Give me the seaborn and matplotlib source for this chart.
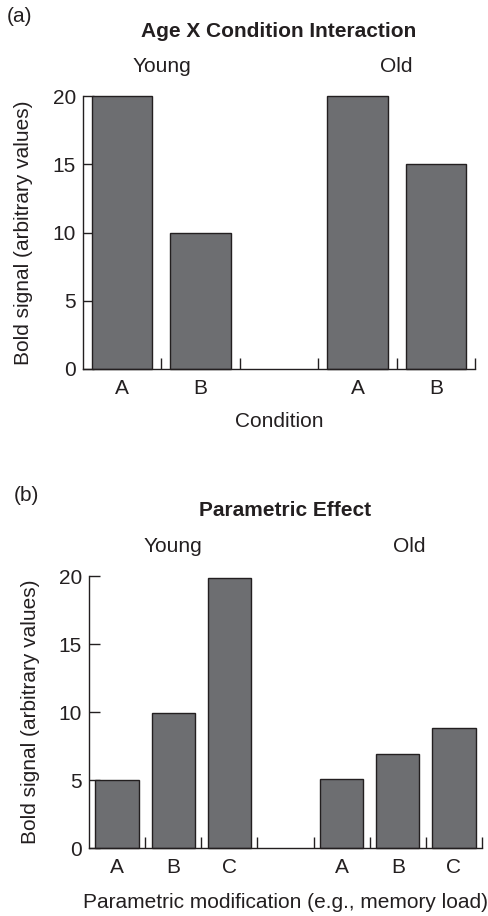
import matplotlib
matplotlib.use('Agg')
import matplotlib.pyplot as plt
import matplotlib.transforms as mtransforms
import seaborn as sns
import pandas as pd
import numpy as np

sns.set_style('ticks')
plt.rcParams['font.family'] = ['Liberation Sans', 'DejaVu Sans']

# panel (a): Age x Condition
a_groups = ['Young', 'Young', 'Old', 'Old']
a_conditions = ['A', 'B', 'A', 'B']
a_values = [20, 10, 20, 15]

# panel (b): parametric effect
b_groups = ['Young', 'Young', 'Young', 'Old', 'Old', 'Old']
b_levels = ['A', 'B', 'C', 'A', 'B', 'C']
b_values = [5.0, 9.9, 19.85, 5.05, 6.9, 8.8]

y_ticks = [0, 5, 10, 15, 20]
ink = '#231f20'
bar_grey = '#6d6e71'
fs = 15


def make_panel(fig, rect, groups, conds, values, group_order, title, xlabel, tag, tag_xy,
               title_y, group_y, xlab_y, ylab_x, old_shift=0.0):
    ax = fig.add_axes(rect)
    slots = []
    for g in group_order:
        for c in sorted(set(cd for gg, cd in zip(groups, conds) if gg == g)):
            slots.append(f'{g} {c}')
        slots.append(f'gap {g}')
    slots = slots[:-1]  # no gap after last group
    df = pd.DataFrame({'slot': [f'{g} {c}' for g, c in zip(groups, conds)],
                       'value': values})
    sns.barplot(data=df, x='slot', y='value', order=slots, color=bar_grey,
                saturation=1, width=0.77, edgecolor=ink, linewidth=1.0, ax=ax)
    for p in ax.patches:
        p.set_clip_on(False)
    n = len(slots)
    ax.set_xlim(-0.5, n - 0.5)
    ax.set_ylim(0, 20)
    ax.set_yticks(y_ticks)
    ax.set_xticks(range(n))
    ax.set_xticklabels(['' if s.startswith('gap') else s.split()[1] for s in slots])
    ax.set_xticks(np.arange(0.5, n, 1.0), minor=True)
    ax.tick_params(axis='x', which='major', length=0, pad=7, labelsize=fs, colors=ink)
    ax.tick_params(axis='x', which='minor', direction='in', length=8, width=1, color=ink)
    ax.tick_params(axis='y', direction='in', length=8, width=1, pad=5, labelsize=fs,
                   colors=ink)
    sns.despine(ax=ax)
    for s in ['left', 'bottom']:
        ax.spines[s].set_color(ink)
        ax.spines[s].set_linewidth(1)

    ax.set_xlabel(xlabel, fontsize=fs, color=ink)
    ax.xaxis.set_label_coords(0.5, xlab_y)
    ax.xaxis.label.set_va('baseline')
    ax.set_ylabel('Bold signal (arbitrary values)', fontsize=fs, color=ink)
    ax.yaxis.set_label_coords(ylab_x, 0.5)
    ax.yaxis.label.set_va('center')

    trans = mtransforms.blended_transform_factory(ax.transData, fig.transFigure)
    for g in group_order:
        pos = [i for i, s in enumerate(slots) if s.startswith(g + ' ')]
        x = np.mean(pos) + (old_shift if g == 'Old' else 0)
        ax.text(x, group_y, g, transform=trans, ha='center', va='baseline',
                fontsize=fs, color=ink)
    ax.text(0.5, title_y, title, transform=mtransforms.blended_transform_factory(
        ax.transAxes, fig.transFigure), ha='center', va='baseline', fontsize=fs,
        fontweight='bold', color=ink)
    fig.text(tag_xy[0], tag_xy[1], tag, ha='left', va='baseline', fontsize=fs, color=ink)
    return ax


W, H = 489, 916
fig = plt.figure(figsize=(W / 100, H / 100), dpi=100)

make_panel(fig, [83 / W, 1 - 369 / H, (475 - 83) / W, (369 - 96) / H],
           a_groups, a_conditions, a_values, ['Young', 'Old'],
           'Age X Condition Interaction', 'Condition', '(a)', (7 / W, 1 - 22 / H),
           1 - 37 / H, 1 - 72 / H, -0.2125, -0.152)

make_panel(fig, [89 / W, 1 - 848 / H, (482 - 89) / W, (848 - 576) / H],
           b_groups, b_levels, b_values, ['Young', 'Old'],
           'Parametric Effect', 'Parametric modification (e.g., memory load)', '(b)',
           (14 / W, 1 - 501 / H), 1 - 516 / H, 1 - 552 / H, -0.22, -0.15, old_shift=0.2)

fig.savefig('out.png', dpi=100)
